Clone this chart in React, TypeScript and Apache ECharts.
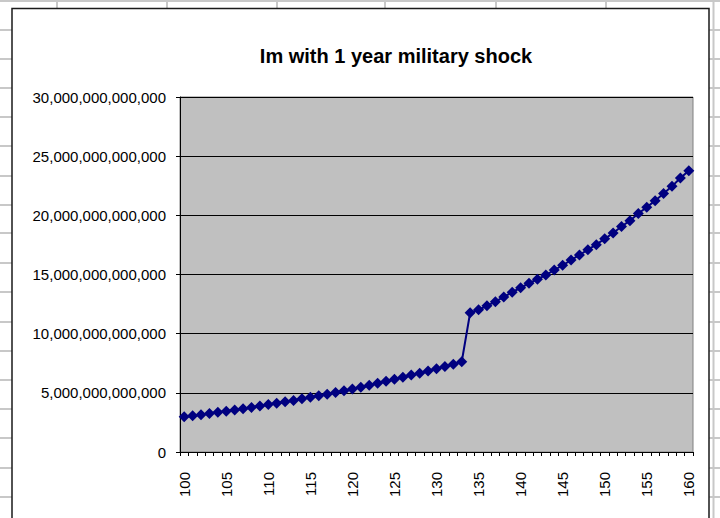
import React, { useEffect, useRef } from "react";
import * as echarts from "echarts";

// Years on the category axis
const years: string[] = Array.from({ length: 61 }, (_, i) => String(100 + i));

// Im values (in units of 1e12) for each year, 100..160
const imTrillions: number[] = [
  2.98, 3.06, 3.15, 3.26, 3.36, 3.45, 3.55, 3.66, 3.77, 3.89,
  4.01, 4.12, 4.24, 4.36, 4.49, 4.62, 4.75, 4.89, 5.03, 5.18,
  5.32, 5.48, 5.64, 5.82, 5.98, 6.15, 6.32, 6.5, 6.66, 6.85,
  7.03, 7.22, 7.42, 7.63, 11.77, 12.02, 12.35, 12.7, 13.1, 13.5,
  13.88, 14.26, 14.6, 14.95, 15.38, 15.78, 16.22, 16.65, 17.1, 17.52,
  18.02, 18.5, 19.06, 19.55, 20.15, 20.68, 21.24, 21.85, 22.45, 23.15,
  23.77,
];

const titleText = "Im with 1 year military shock";
const yMin = 0;
const yMax = 30e12;
const yStep = 5e12;

// Worksheet cell borders around the embedded chart
const sheetRowLines: number[] = [30, 59, 88, 117, 146, 176, 205, 233, 263, 292, 322, 351, 380, 409, 438, 468, 497];
const sheetColLines: number[] = [57, 167, 277, 385, 496, 606];

const FONT = "'Liberation Sans', Arial, sans-serif";
const SHEET = "#c8c8c8";

export default function App() {
  const ref = useRef<HTMLDivElement>(null);

  useEffect(() => {
    if (!ref.current) return;
    const chart = echarts.init(ref.current, undefined, { renderer: "svg" });

    const sheet: any[] = [];
    sheet.push({ type: "line", z: -10, shape: { x1: 0, y1: 1, x2: 720, y2: 1 }, style: { stroke: SHEET, lineWidth: 2 } });
    sheetColLines.forEach((x) =>
      sheet.push({ type: "line", z: -10, shape: { x1: x, y1: 0, x2: x, y2: 8 }, style: { stroke: SHEET, lineWidth: 2 } })
    );
    sheet.push({ type: "line", z: -10, shape: { x1: 713.5, y1: 0, x2: 713.5, y2: 518 }, style: { stroke: SHEET, lineWidth: 2 } });
    sheetRowLines.forEach((y) => {
      sheet.push({ type: "line", z: -10, shape: { x1: 0, y1: y, x2: 12, y2: y }, style: { stroke: SHEET, lineWidth: 2 } });
      sheet.push({ type: "line", z: -10, shape: { x1: 709, y1: y, x2: 720, y2: y }, style: { stroke: SHEET, lineWidth: 2 } });
    });
    sheet.push({
      type: "rect",
      z: -5,
      shape: { x: 12, y: 8.5, width: 697, height: 520 },
      style: { fill: "#ffffff", stroke: "#1a1a1a", lineWidth: 1.5 },
    });

    chart.setOption({
      animation: false,
      backgroundColor: "#ffffff",
      textStyle: { fontFamily: FONT },
      graphic: sheet,
      title: {
        text: titleText,
        left: 391,
        textAlign: "center",
        top: 41,
        textStyle: { fontFamily: FONT, fontSize: 20, fontWeight: "bold", color: "#000" },
      },
      grid: {
        left: 180,
        top: 97,
        right: 27,
        bottom: 66,
        show: true,
        backgroundColor: "#c0c0c0",
        borderColor: "#808080",
        borderWidth: 1,
        containLabel: false,
      },
      xAxis: {
        type: "category",
        data: years,
        boundaryGap: true,
        axisLine: { lineStyle: { color: "#000", width: 1 } },
        axisTick: { show: true, interval: 0, length: 4, lineStyle: { color: "#000" } },
        axisLabel: {
          interval: 4,
          rotate: 90,
          margin: 20,
          fontSize: 15,
          fontFamily: FONT,
          color: "#000",
        },
        splitLine: { show: false },
      },
      yAxis: {
        type: "value",
        min: yMin,
        max: yMax,
        interval: yStep,
        axisLine: { show: true, lineStyle: { color: "#000", width: 1 } },
        axisTick: { show: true, length: 4, lineStyle: { color: "#000" } },
        axisLabel: {
          margin: 14,
          fontSize: 15,
          fontFamily: FONT,
          color: "#000",
          formatter: (v: number) => v.toLocaleString("en-US"),
        },
        splitLine: { show: true, lineStyle: { color: "#000", width: 1 } },
      },
      series: [
        {
          type: "line",
          data: imTrillions.map((v) => v * 1e12),
          symbol: "diamond",
          symbolSize: 11,
          showAllSymbol: true,
          lineStyle: { color: "#000080", width: 2 },
          itemStyle: { color: "#000080", borderWidth: 0 },
        },
      ],
    });

    return () => chart.dispose();
  }, []);

  return (
    <div
      ref={ref}
      style={{ position: "absolute", left: 0, top: 0, width: 720, height: 518 }}
    />
  );
}
